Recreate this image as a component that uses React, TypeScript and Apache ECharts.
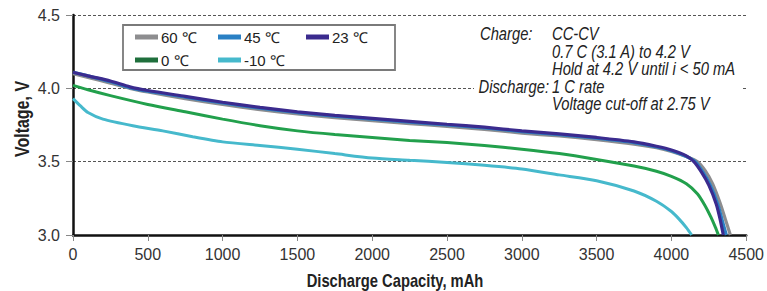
import React, { useEffect, useRef } from "react";
import * as echarts from "echarts";

const xTicks = { min: 0, max: 4500, interval: 500 };
const yTicks = { min: 3.0, max: 4.5, interval: 0.5 };

const names = ["60 ℃", "45 ℃", "23 ℃", "0 ℃", "-10 ℃"];

const cap60 = [0, 100, 250, 380, 500, 750, 1000, 1250, 1500, 1750, 2000, 2250, 2500, 2750, 3000, 3250, 3500, 3750, 3900, 4000, 4100, 4175, 4225, 4275, 4325, 4360, 4394];
const volt60 = [4.10, 4.075, 4.035, 4.0, 3.975, 3.93, 3.89, 3.855, 3.825, 3.80, 3.78, 3.76, 3.74, 3.72, 3.695, 3.675, 3.65, 3.62, 3.595, 3.57, 3.535, 3.50, 3.44, 3.35, 3.22, 3.11, 3.0];

const cap45 = [0, 100, 250, 380, 500, 750, 1000, 1250, 1500, 1750, 2000, 2250, 2500, 2750, 3000, 3250, 3500, 3750, 3900, 4000, 4100, 4160, 4210, 4260, 4310, 4340, 4367];
const volt45 = [4.11, 4.085, 4.045, 4.005, 3.98, 3.94, 3.90, 3.865, 3.835, 3.81, 3.79, 3.77, 3.75, 3.73, 3.705, 3.685, 3.66, 3.63, 3.60, 3.575, 3.535, 3.50, 3.43, 3.34, 3.21, 3.10, 3.0];

const cap23 = [0, 100, 250, 380, 500, 750, 1000, 1250, 1500, 1750, 2000, 2250, 2500, 2750, 3000, 3250, 3500, 3750, 3900, 4000, 4100, 4150, 4200, 4250, 4300, 4325, 4347];
const volt23 = [4.11, 4.085, 4.05, 4.01, 3.985, 3.945, 3.905, 3.87, 3.84, 3.815, 3.795, 3.775, 3.755, 3.735, 3.71, 3.69, 3.665, 3.635, 3.605, 3.58, 3.54, 3.50, 3.43, 3.34, 3.21, 3.11, 3.0];

const cap0 = [0, 100, 250, 500, 750, 1000, 1250, 1500, 1750, 2000, 2250, 2500, 2750, 3000, 3250, 3500, 3750, 3900, 4000, 4100, 4175, 4225, 4265, 4295, 4314];
const volt0 = [4.02, 3.99, 3.95, 3.89, 3.84, 3.79, 3.745, 3.71, 3.685, 3.665, 3.645, 3.63, 3.61, 3.585, 3.555, 3.515, 3.47, 3.435, 3.40, 3.35, 3.28, 3.20, 3.12, 3.05, 3.0];

const capM10 = [0, 50, 100, 200, 400, 600, 800, 1000, 1250, 1500, 1750, 2000, 2250, 2500, 2750, 3000, 3250, 3500, 3750, 3900, 4000, 4050, 4100, 4135];
const voltM10 = [3.93, 3.88, 3.835, 3.79, 3.745, 3.71, 3.67, 3.635, 3.61, 3.585, 3.555, 3.525, 3.51, 3.495, 3.475, 3.45, 3.41, 3.37, 3.30, 3.23, 3.16, 3.11, 3.05, 3.0];

const lineColors = ["#8d8d8f", "#2a80c4", "#3b2b8e", "#22a04c", "#46b9cc"];
const legendColors = ["#8d8d8f", "#2a80c4", "#3b2b8e", "#1f6f3c", "#46b9cc"];

const annotationLeft = ["Charge:", "", "", "Discharge:", ""];
const annotationRight = [
  "CC-CV",
  "0.7 C (3.1 A) to 4.2 V",
  "Hold at 4.2 V until i < 50 mA",
  "1 C rate",
  "Voltage cut-off at 2.75 V",
];

const FONT = "'Liberation Sans', Arial, sans-serif";
const NARROW = 0.82;

const zip = (xs: number[], ys: number[]) => xs.map((x, i) => [x, ys[i]]);

export default function App() {
  const ref = useRef<HTMLDivElement>(null);
  useEffect(() => {
    if (!ref.current) return;
    const chart = echarts.init(ref.current, undefined, { renderer: "svg" });
    const caps = [cap60, cap45, cap23, cap0, capM10];
    const volts = [volt60, volt45, volt23, volt0, voltM10];
    const legendPos = [
      [135, 29],
      [218, 29],
      [306, 29],
      [135, 52],
      [218, 52],
    ];
    const rowY = [33, 51, 68, 86, 103];
    const graphics: any[] = [
      {
        type: "rect",
        z: 1,
        shape: { x: 123, y: 25, width: 272, height: 45 },
        style: { fill: "#fff", stroke: "#7a7a7a", lineWidth: 1.8 },
      },
      {
        type: "rect",
        z: 5,
        shape: { x: 474, y: 22, width: 269, height: 90 },
        style: { fill: "#fff" },
      },
      {
        type: "text",
        z: 6,
        x: 395,
        y: 280,
        scaleX: NARROW,
        style: {
          text: "Discharge Capacity, mAh",
          font: `bold 18px ${FONT}`,
          fill: "#222",
          align: "center",
          verticalAlign: "middle",
        },
      },
      {
        type: "text",
        z: 6,
        x: 22,
        y: 119,
        rotation: Math.PI / 2,
        scaleX: NARROW,
        style: {
          text: "Voltage, V",
          font: `bold 19.5px ${FONT}`,
          fill: "#222",
          align: "center",
          verticalAlign: "middle",
        },
      },
    ];
    annotationLeft.forEach((t, i) => {
      if (!t) return;
      graphics.push({
        type: "text",
        z: 6,
        x: i === 0 ? 480 : 549,
        y: rowY[i],
        scaleX: NARROW,
        style: {
          text: t,
          font: `italic 18px ${FONT}`,
          fill: "#222",
          align: i === 0 ? "left" : "right",
          verticalAlign: "middle",
        },
      });
    });
    annotationRight.forEach((t, i) => {
      graphics.push({
        type: "text",
        z: 6,
        x: 552,
        y: rowY[i],
        scaleX: NARROW,
        style: {
          text: t,
          font: `italic 18px ${FONT}`,
          fill: "#222",
          align: "left",
          verticalAlign: "middle",
        },
      });
    });

    chart.setOption({
      animation: false,
      backgroundColor: "#fff",
      grid: { left: 73, right: 17, top: 15, bottom: 56, containLabel: false },
      xAxis: {
        type: "value",
        min: xTicks.min,
        max: xTicks.max,
        interval: xTicks.interval,
        axisLine: { show: true, onZero: false, lineStyle: { color: "#111", width: 2.5 } },
        axisTick: { show: true, length: 6, lineStyle: { color: "#888", width: 1 } },
        axisLabel: {
          margin: 11,
          fontSize: 16,
          fontFamily: FONT,
          color: "#333",
          formatter: (v: number) => String(v),
        },
        splitLine: { show: false },
      },
      yAxis: {
        type: "value",
        min: yTicks.min,
        max: yTicks.max,
        interval: yTicks.interval,
        axisLine: { show: true, onZero: false, lineStyle: { color: "#111", width: 2.5 } },
        axisTick: { show: true, length: 7, lineStyle: { color: "#888", width: 1 } },
        axisLabel: {
          margin: 13,
          fontSize: 16,
          fontFamily: FONT,
          color: "#333",
          formatter: (v: number) => v.toFixed(1),
        },
        splitLine: { show: true, lineStyle: { color: "#555", type: [3, 2], width: 1 } },
      },
      legend: names.map((n, i) => ({
        show: true,
        left: legendPos[i][0],
        top: legendPos[i][1],
        padding: 0,
        selectedMode: false,
        icon: "rect",
        itemWidth: 23,
        itemHeight: 5,
        textStyle: { fontSize: 15, fontFamily: FONT, color: "#222", lineHeight: 16, padding: [0, 0, 0, -2] },
        data: [{ name: n, itemStyle: { color: legendColors[i] } }],
      })),
      graphic: graphics,
      series: names.map((n, i) => ({
        name: n,
        type: "line",
        data: zip(caps[i], volts[i]),
        smooth: 0.25,
        showSymbol: false,
        symbol: "none",
        lineStyle: { color: lineColors[i], width: i < 3 ? 3.2 : 3 },
        itemStyle: { color: lineColors[i] },
        z: 2 + i,
      })),
    });
    return () => chart.dispose();
  }, []);
  return (
    <div
      ref={ref}
      style={{ position: "fixed", left: 0, top: 0, width: 767, height: 291 }}
    />
  );
}
